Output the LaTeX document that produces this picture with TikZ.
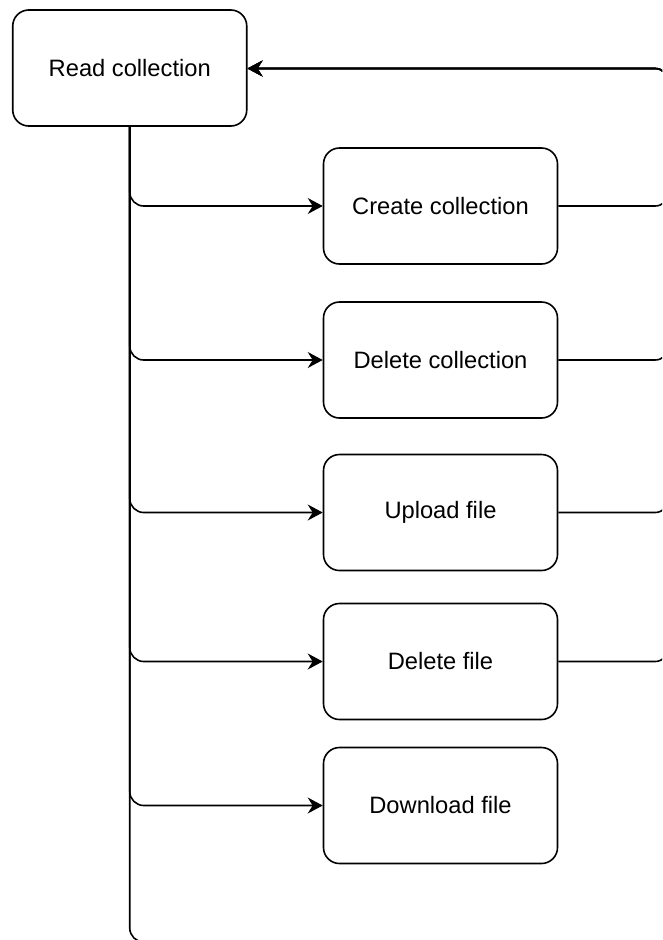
\documentclass[tikz,border=0pt]{standalone}
\usepackage{fontspec}
\setmainfont{Liberation Sans}
\usetikzlibrary{arrows.meta}
\begin{document}
\begin{tikzpicture}[x=1pt,y=-1pt,
  stepbox/.style={draw=black, line width=1.6pt, rounded corners=16pt, fill=white,
    minimum width=234pt, minimum height=116pt, inner sep=0pt,
    font=\fontsize{23.7}{28}\selectfont, text=black},
  link/.style={draw=black, line width=1.6pt, rounded corners=14pt},
  arr/.style={-{Stealth[length=15pt,width=16pt,inset=5pt]}}]
\useasboundingbox (0,0) rectangle (662,940);
\clip (0,0) rectangle (662,940);
\node[stepbox] (read) at (129.75,68) {Read collection};
\node[stepbox] (c1) at (440.5,206) {Create collection};
\node[stepbox] (c2) at (440.5,360) {Delete collection};
\node[stepbox] (c3) at (440.5,512.5) {Upload file};
\node[stepbox] (c4) at (440.5,661.5) {Delete file};
\node[stepbox] (c5) at (440.5,805.5) {Download file};
\coordinate (ret) at (669,68.5);
\coordinate (bot) at (220,942);
% trunk
\draw[link] (read.south) |- (bot);
\foreach \b in {c1,c2,c3,c4,c5}{
  \draw[link,arr] (read.south) |- (\b.west);
}
\foreach \b in {c1,c2,c3,c4}{
  \draw[link,arr] (\b.east) -| (ret) -- (read.east |- ret);
}
\end{tikzpicture}
\end{document}
